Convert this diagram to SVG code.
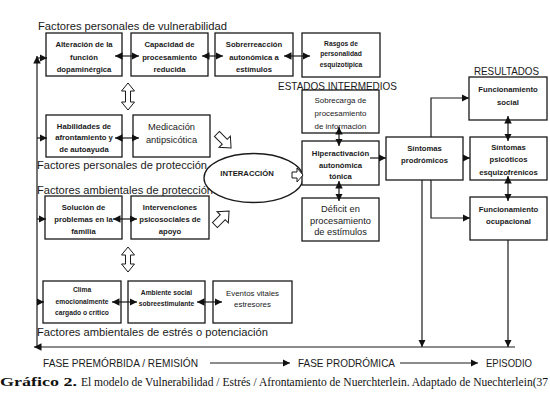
<svg xmlns="http://www.w3.org/2000/svg" width="550" height="402" viewBox="0 0 550 402">
<style>
.bx{fill:#fff;stroke:#1a1a1a;stroke-width:1.3}
.t{font-family:"Liberation Sans",Arial,sans-serif;font-size:7.7px;font-weight:bold;fill:#1a1a1a;text-anchor:middle}
.big{font-size:9.3px;font-weight:normal}
.sm{font-size:6.7px}
.reg{font-weight:normal;font-size:7.9px}
.h{font-family:"Liberation Sans",Arial,sans-serif;font-size:11.5px;fill:#1a1a1a}
.cap{font-family:"Liberation Serif","Times New Roman",serif;font-size:11.5px;fill:#111}
.ln{fill:none;stroke:#1a1a1a;stroke-width:1.2}
.dbl{marker-start:url(#ah);marker-end:url(#ah)}
.one{marker-end:url(#ah)}
.hol{fill:#fff;stroke:#1a1a1a;stroke-width:1}
</style>
<defs>
<marker id="ah" viewBox="0 0 10 10" refX="10" refY="5" markerWidth="7.5" markerHeight="7.5" markerUnits="userSpaceOnUse" orient="auto-start-reverse"><path d="M0,0L10,5L0,10z" fill="#111"/></marker>
</defs>
<rect width="550" height="402" fill="#fff"/>

<!-- headings -->
<text class="h" x="38" y="30" textLength="189" lengthAdjust="spacingAndGlyphs">Factores personales de vulnerabilidad</text>
<text class="h" x="37" y="169" textLength="170" lengthAdjust="spacingAndGlyphs">Factores personales de protección</text>
<text class="h" x="37" y="194" textLength="176" lengthAdjust="spacingAndGlyphs">Factores ambientales de protección</text>
<text class="h" x="37" y="336" textLength="231" lengthAdjust="spacingAndGlyphs">Factores ambientales de estrés o potenciación</text>
<text class="h" x="278" y="90" textLength="119" lengthAdjust="spacingAndGlyphs">ESTADOS INTERMEDIOS</text>
<text class="h" x="474" y="75" textLength="65" lengthAdjust="spacingAndGlyphs">RESULTADOS</text>
<text class="h" x="43" y="367" font-size="10.5" textLength="155" lengthAdjust="spacingAndGlyphs">FASE PREMÓRBIDA / REMISIÓN</text>
<text class="h" x="298" y="367" font-size="10.5" textLength="97" lengthAdjust="spacingAndGlyphs">FASE PRODRÓMICA</text>
<text class="h" x="486" y="367" font-size="10.5" textLength="46" lengthAdjust="spacingAndGlyphs">EPISODIO</text>
<text class="cap" x="0" y="386" font-weight="bold" textLength="77" lengthAdjust="spacingAndGlyphs">Gráfico 2.</text>
<text class="cap" x="81" y="386" textLength="467" lengthAdjust="spacingAndGlyphs">El modelo de Vulnerabilidad / Estrés / Afrontamiento de Nuerchterlein. Adaptado de Nuechterlein(37</text>

<!-- nodes -->
<g id="alteracion"><rect class="bx" x="46" y="33" width="76" height="43"/><text class="t"><tspan x="84" y="47">Alteración de la</tspan><tspan x="84" y="59.5">función</tspan><tspan x="84" y="72">dopaminérgica</tspan></text></g>
<g id="capacidad"><rect class="bx" x="131" y="33" width="77" height="43"/><text class="t"><tspan x="169.5" y="47">Capacidad de</tspan><tspan x="169.5" y="59.5">procesamiento</tspan><tspan x="169.5" y="72">reducida</tspan></text></g>
<g id="sobrerreaccion"><rect class="bx" x="215" y="33" width="78" height="43"/><text class="t"><tspan x="254" y="47">Sobrerreacción</tspan><tspan x="254" y="59.5">autonómica a</tspan><tspan x="254" y="72">estímulos</tspan></text></g>
<g id="rasgos"><rect class="bx" x="302" y="33" width="78" height="44"/><text class="t sm"><tspan x="341" y="45.5">Rasgos de</tspan><tspan x="341" y="56">personalidad</tspan><tspan x="341" y="66.5">esquizotípica</tspan></text></g>

<g id="habilidades"><rect class="bx" x="46" y="115" width="76" height="42"/><text class="t"><tspan x="84" y="128.5">Habilidades de</tspan><tspan x="84" y="140">afrontamiento y</tspan><tspan x="84" y="151.5">de autoayuda</tspan></text></g>
<g id="medicacion"><rect class="bx" x="133" y="115" width="77" height="42"/><text class="t big"><tspan x="171.5" y="129.5">Medicación</tspan><tspan x="171.5" y="142.5">antipsicótica</tspan></text></g>

<g id="interaccion"><ellipse class="bx" cx="253.5" cy="178" rx="49.5" ry="24.5"/><text class="t" font-size="6.2" x="247" y="175.5">INTERACCIÓN</text></g>

<g id="solucion"><rect class="bx" x="45" y="196" width="77" height="43"/><text class="t"><tspan x="83.5" y="209.5">Solución de</tspan><tspan x="83.5" y="221.5">problemas en la</tspan><tspan x="83.5" y="233.5">familia</tspan></text></g>
<g id="intervenciones"><rect class="bx" x="131" y="196" width="78" height="43"/><text class="t"><tspan x="170" y="209.5">Intervenciones</tspan><tspan x="170" y="221.5">psicosociales de</tspan><tspan x="170" y="233.5">apoyo</tspan></text></g>

<g id="clima"><rect class="bx" x="43" y="281" width="78" height="42"/><text class="t sm"><tspan x="82" y="292">Clima</tspan><tspan x="82" y="304">emocionalmente</tspan><tspan x="82" y="315">cargado o crítico</tspan></text></g>
<g id="ambiente"><rect class="bx" x="128" y="281" width="77" height="42"/><text class="t sm"><tspan x="166.5" y="295">Ambiente social</tspan><tspan x="166.5" y="305.5">sobreestimulante</tspan></text></g>
<g id="eventos"><rect class="bx" x="213" y="281" width="79" height="42"/><text class="t reg"><tspan x="252.5" y="295.5">Eventos vitales</tspan><tspan x="252.5" y="306.5">estresores</tspan></text></g>

<g id="sobrecarga"><rect class="bx" x="302" y="90" width="77" height="43"/><text class="t reg" font-size="8.2"><tspan x="340.5" y="103">Sobrecarga de</tspan><tspan x="340.5" y="116">procesamiento</tspan><tspan x="340.5" y="129">de información</tspan></text></g>
<g id="hiperactivacion"><rect class="bx" x="302" y="141" width="77" height="44"/><text class="t"><tspan x="340.5" y="156">Hiperactivación</tspan><tspan x="340.5" y="167.5">autonómica</tspan><tspan x="340.5" y="179">tónica</tspan></text></g>
<g id="deficit"><rect class="bx" x="302" y="198" width="77" height="43"/><text class="t big"><tspan x="340.5" y="212">Déficit en</tspan><tspan x="340.5" y="223.5">procesamiento</tspan><tspan x="340.5" y="235">de estímulos</tspan></text></g>

<g id="prodromicos"><rect class="bx" x="386" y="137" width="77" height="43"/><text class="t"><tspan x="424.5" y="151">Síntomas</tspan><tspan x="424.5" y="163">prodrómicos</tspan></text></g>
<g id="social"><rect class="bx" x="469" y="77" width="78" height="43"/><text class="t"><tspan x="508" y="92">Funcionamiento</tspan><tspan x="508" y="104.5">social</tspan></text></g>
<g id="psicoticos"><rect class="bx" x="470" y="137" width="77" height="43"/><text class="t"><tspan x="508.5" y="150">Síntomas</tspan><tspan x="508.5" y="162">psicóticos</tspan><tspan x="508.5" y="174.5">esquizofrénicos</tspan></text></g>
<g id="ocupacional"><rect class="bx" x="470" y="197" width="77" height="43"/><text class="t"><tspan x="508.5" y="212">Funcionamiento</tspan><tspan x="508.5" y="224">ocupacional</tspan></text></g>

<!-- connectors -->
<g id="connectors">
<path class="ln dbl" d="M115,56H139"/>
<path class="ln dbl" d="M202,56H223"/>
<path class="ln dbl" d="M284,56H310"/>
<path class="ln dbl" d="M115,138H139"/>
<path class="ln dbl" d="M113,219H137"/>
<path class="ln dbl" d="M112,302H137"/>
<path class="ln dbl" d="M197,302H222"/>
<path class="ln dbl" d="M339,127V146"/>
<path class="ln dbl" d="M339,181V201"/>
<path class="ln dbl" d="M508,116V141"/>
<path class="ln dbl" d="M508,176V201"/>
<path class="ln one" d="M37,347V56"/>
<path class="ln one" d="M37,58H47"/>
<path class="ln one" d="M37,138H47"/>
<path class="ln one" d="M37,219H46"/>
<path class="ln one" d="M37,302H44"/>
<path class="ln one" d="M515,347H34"/>
<path class="ln one" d="M422,180V347"/>
<path class="ln one" d="M508,240V347"/>
<path class="ln one" d="M370,158H386"/>
<path class="ln one" d="M463,158H470"/>
<path class="ln one" d="M431,137V98H469"/>
<path class="ln one" d="M431,180V218H470"/>
<path class="ln one" d="M210,363H290"/>
<path class="ln one" d="M400,363H478"/>
<polygon class="hol" points="128,83 134.5,91 130.5,91 130.5,102 134.5,102 128,110 121.5,102 125.5,102 125.5,91 121.5,91"/>
<polygon class="hol" points="128,247 134.5,255 130.5,255 130.5,264 134.5,264 128,272 121.5,264 125.5,264 125.5,255 121.5,255"/>
<polygon class="hol" transform="translate(224,141) rotate(45)" points="-10,-3.5 1,-3.5 1,-8 10,0 1,8 1,3.5 -10,3.5"/>
<polygon class="hol" transform="translate(222,218) rotate(-45)" points="-10,-3.5 1,-3.5 1,-8 10,0 1,8 1,3.5 -10,3.5"/>
<polygon class="hol" transform="translate(297,175)" points="-5,-3 0,-3 0,-7 6,0 0,7 0,3 -5,3"/>
</g>
</svg>
